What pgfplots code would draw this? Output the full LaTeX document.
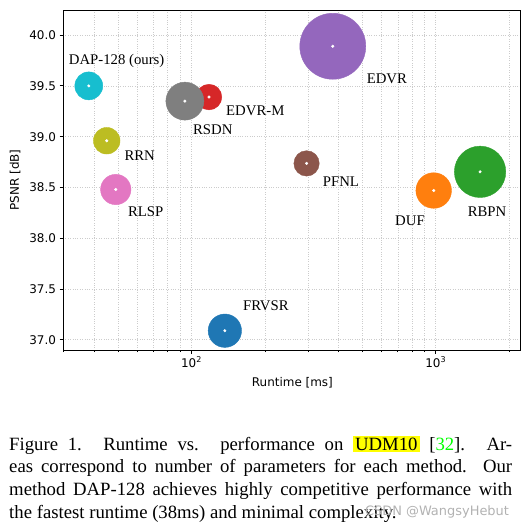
\documentclass[border=0pt]{standalone}
\usepackage{pgfplots}
\pgfplotsset{compat=1.18}
\usepackage{fontspec}
\setmainfont{Liberation Serif}
\newfontfamily\dv{DejaVu Sans}
\definecolor{tabblue}{HTML}{1F77B4}
\definecolor{taborange}{HTML}{FF7F0E}
\definecolor{tabgreen}{HTML}{2CA02C}
\definecolor{tabred}{HTML}{D62728}
\definecolor{tabpurple}{HTML}{9467BD}
\definecolor{tabbrown}{HTML}{8C564B}
\definecolor{tabpink}{HTML}{E377C2}
\definecolor{tabgray}{HTML}{7F7F7F}
\definecolor{tabolive}{HTML}{BCBD22}
\definecolor{tabcyan}{HTML}{17BECF}
\definecolor{gridgray}{HTML}{CCCCCC}
\definecolor{hlyellow}{HTML}{FFFF00}
\begin{document}
\begin{tikzpicture}
\useasboundingbox (0,0) rectangle (530bp,-529bp);
\begin{axis}[
  at={(63bp,-10bp)}, anchor=north west,
  scale only axis, width=457bp, height=340bp,
  xmode=log, log basis x=10,
  xmin=29.8, xmax=2213, ymin=36.9, ymax=40.247,
  xtick={100,1000}, xticklabels={10\textsuperscript{2},10\textsuperscript{3}},
  minor xtick={30,40,50,60,70,80,90,200,300,400,500,600,700,800,900,2000},
  ytick={37,37.5,38,38.5,39,39.5,40},
  yticklabel style={/pgf/number format/.cd, fixed, fixed zerofill, precision=1, assume math mode=true},
  tick label style={font=\dv\fontsize{12}{14}\selectfont},
  grid=both,
  major grid style={dotted, gridgray, line width=0.7bp},
  minor grid style={dotted, gridgray, line width=0.7bp},
  axis line style={black, line width=0.8bp},
  tick align=outside, tick pos=left,
  major tick length=3.5bp, minor tick length=2bp,
  tick style={black, line width=0.8bp},
  xlabel={Runtime [ms]}, ylabel={PSNR [dB]},
  every axis x label/.style={at={(axis description cs:0.502,-0.097)}, anchor=center, font=\dv\fontsize{12}{14}\selectfont},
  every axis y label/.style={at={(axis description cs:-0.105,0.5)}, rotate=90, anchor=center, font=\dv\fontsize{12}{14}\selectfont},
  clip=false,
]
\addplot[only marks, mark=*, color=tabblue, mark size=16.7bp] coordinates {(137,37.09)};
\addplot[only marks, mark=*, color=taborange, mark size=17.8bp] coordinates {(981,38.47)};
\addplot[only marks, mark=*, color=tabgreen, mark size=25.7bp] coordinates {(1519,38.654)};
\addplot[only marks, mark=*, color=tabred, mark size=12.8bp] coordinates {(118,39.39)};
\addplot[only marks, mark=*, color=tabpurple, mark size=33bp] coordinates {(379,39.89)};
\addplot[only marks, mark=*, color=tabbrown, mark size=12.7bp] coordinates {(296,38.737)};
\addplot[only marks, mark=*, color=tabpink, mark size=15.2bp] coordinates {(49,38.48)};
\addplot[only marks, mark=*, color=tabgray, mark size=19bp] coordinates {(94,39.35)};
\addplot[only marks, mark=*, color=tabolive, mark size=13.3bp] coordinates {(45,38.96)};
\addplot[only marks, mark=*, color=tabcyan, mark size=14bp] coordinates {(38,39.5)};
\addplot[only marks, mark=*, color=white, mark size=1.3bp] coordinates {
(137,37.09) (981,38.47) (1519,38.654) (118,39.39) (379,39.89) (296,38.737) (49,38.48) (94,39.35) (45,38.96) (38,39.5)};
\begin{scope}[every node/.style={font=\fontsize{14.8}{17}\selectfont, inner sep=0pt}]
\node at (axis cs:49.4,39.744) {DAP-128 (ours)};
\node at (axis cs:182.6,39.251) {EDVR-M};
\node at (axis cs:122.3,39.073) {RSDN};
\node at (axis cs:631,39.567) {EDVR};
\node at (axis cs:61.4,38.816) {RRN};
\node at (axis cs:65.0,38.264) {RLSP};
\node at (axis cs:409,38.56) {PFNL};
\node at (axis cs:784.6,38.175) {DUF};
\node at (axis cs:1622,38.264) {RBPN};
\node at (axis cs:201.6,37.336) {FRVSR};
\end{scope}
\end{axis}
\node[anchor=base west, inner sep=0pt] at (9bp,-450bp) {\parbox[t]{503bp}{\fontsize{18.8}{23}\selectfont\noindent
Figure 1.  Runtime vs.  performance on {\setlength{\fboxsep}{2bp}\colorbox{hlyellow}{UDM10}} [\textcolor{green}{32}].  Ar-\linebreak
eas correspond to number of parameters for each method.  Our\linebreak
method DAP-128 achieves highly competitive performance with\linebreak
the fastest runtime (38ms) and minimal complexity.}};
\node[text=black!30, font=\dv\fontsize{13}{15}\selectfont, inner sep=0pt] at (437bp,-512bp) {CSDN @WangsyHebut};
\end{tikzpicture}
\end{document}
